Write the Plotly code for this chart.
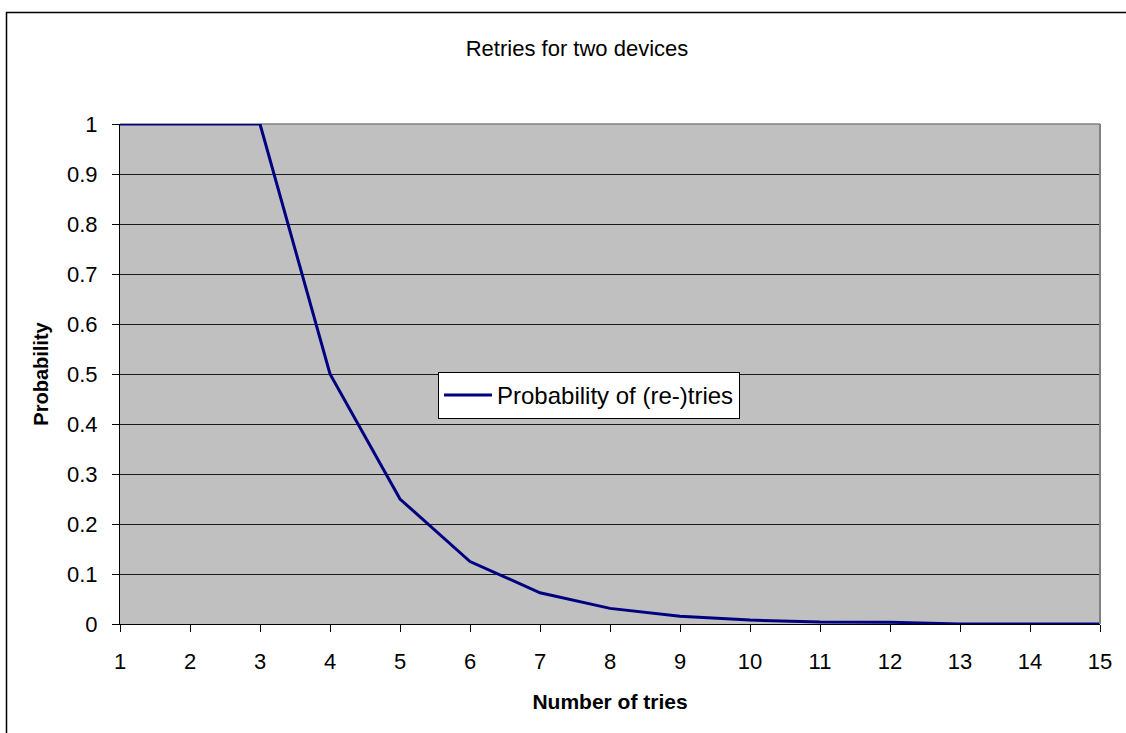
import plotly.graph_objects as go

tries = [1, 2, 3, 4, 5, 6, 7, 8, 9, 10, 11, 12, 13, 14, 15]
probability = [1, 1, 1, 0.5, 0.25, 0.125, 0.0625, 0.03125, 0.015625,
               0.0078, 0.0039, 0.0037, 0, 0, 0]
y_ticks = [0, 0.1, 0.2, 0.3, 0.4, 0.5, 0.6, 0.7, 0.8, 0.9, 1]
y_tick_labels = ["0", "0.1", "0.2", "0.3", "0.4", "0.5", "0.6", "0.7", "0.8", "0.9", "1"]

FONT = "Liberation Sans, Arial, sans-serif"

W, H = 1126, 733
L, T = 120, 124
R = W - 1100
B = H - T - 500
pw, ph = W - L - R, H - T - B


def px_x(p):
    return (p - L) / pw


def px_y(p):
    return (T + ph - p) / ph


fig = go.Figure()
fig.add_trace(go.Scatter(
    x=tries, y=probability, mode="lines",
    name="Probability of (re-)tries",
    line=dict(color="#000080", width=3),
))

fig.update_layout(
    width=W, height=H,
    margin=dict(l=L, r=R, t=T, b=B),
    paper_bgcolor="white",
    plot_bgcolor="#C0C0C0",
    font=dict(family=FONT, color="black", size=22),
    title=dict(text="Retries for two devices", x=577 / W, xanchor="center",
               y=1 - 48 / H, yanchor="middle", font=dict(size=22)),
    showlegend=True,
    legend=dict(x=px_x(438), y=px_y(372), xanchor="left", yanchor="top",
                bgcolor="white", bordercolor="black", borderwidth=1,
                font=dict(size=24), itemwidth=48),
    xaxis=dict(
        range=[1, 15], tickvals=tries, ticktext=[str(t) for t in tries],
        showgrid=False, zeroline=False, showline=True, linecolor="black", linewidth=1,
        ticks="outside", ticklen=7, tickcolor="black", tickfont=dict(size=22),
        ticklabelstandoff=11,
        title=dict(text="<b>Number of tries</b>", font=dict(size=21), standoff=20),
    ),
    yaxis=dict(
        range=[0, 1], tickvals=y_ticks, ticktext=y_tick_labels,
        showgrid=True, gridcolor="#1a1a1a", gridwidth=1,
        zeroline=False, showline=True, linecolor="black", linewidth=1,
        ticks="outside", ticklen=7, tickcolor="black", tickfont=dict(size=22),
        ticklabelstandoff=10,
        title=dict(text="<b>Probability</b>", font=dict(size=20), standoff=13),
    ),
    shapes=[
        dict(type="rect", xref="paper", yref="paper",
             x0=px_x(6.5), x1=px_x(1140), y0=px_y(745), y1=px_y(12.5),
             line=dict(color="black", width=1.5), fillcolor="rgba(0,0,0,0)", layer="below"),
        dict(type="line", xref="paper", yref="paper", x0=1, x1=1, y0=0, y1=1,
             line=dict(color="#808080", width=2)),
        dict(type="line", xref="paper", yref="paper", x0=0, x1=1, y0=1, y1=1,
             line=dict(color="#808080", width=1.5), layer="between"),
    ],
)

fig.write_html("out.html", config={"displayModeBar": False},
               post_script="document.body.style.margin='0px';")
